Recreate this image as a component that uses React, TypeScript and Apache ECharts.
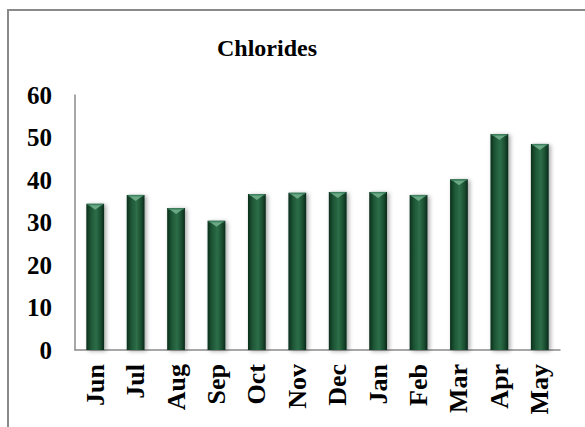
import React, { useEffect, useRef } from "react";
import * as echarts from "echarts";

const months = ["Jun", "Jul", "Aug", "Sep", "Oct", "Nov", "Dec", "Jan", "Feb", "Mar", "Apr", "May"];
const chlorides = [34.4, 36.5, 33.4, 30.4, 36.7, 37.0, 37.2, 37.2, 36.5, 40.2, 50.8, 48.5];
const yTicks = { min: 0, max: 60, interval: 10 };

const FONT = "Liberation Serif";

export default function App() {
  const ref = useRef<HTMLDivElement>(null);

  useEffect(() => {
    if (!ref.current) return;
    const chart = echarts.init(ref.current, undefined, { renderer: "svg" });

    const barFill = new echarts.graphic.LinearGradient(0, 0, 1, 0, [
      { offset: 0, color: "#0a2e1b" },
      { offset: 0.25, color: "#1e5636" },
      { offset: 0.55, color: "#2d6e48" },
      { offset: 0.8, color: "#1b4f31" },
      { offset: 1, color: "#08281a" },
    ]);

    chart.setOption({
      animation: false,
      backgroundColor: "#ffffff",
      title: {
        text: "Chlorides",
        left: 262,
        top: 31,
        textAlign: "center",
        textStyle: { fontFamily: FONT, fontWeight: "bold", fontSize: 24, color: "#000" },
      },
      graphic: [
        {
          type: "rect",
          shape: { x: 8, y: 10, width: 700, height: 500 },
          style: { fill: "none", stroke: "#8a8a8a", lineWidth: 2 },
          silent: true,
        },
      ],
      grid: { left: 75, right: 25, top: 95, bottom: 77 },
      xAxis: {
        type: "category",
        data: months,
        axisLine: { show: true, lineStyle: { color: "#8a8a8a", width: 1.5 } },
        axisTick: { show: false },
        axisLabel: {
          rotate: 90,
          margin: 14,
          interval: 0,
          fontFamily: FONT,
          fontWeight: "bold",
          fontSize: 26,
          color: "#000",
        },
      },
      yAxis: {
        type: "value",
        min: yTicks.min,
        max: yTicks.max,
        interval: yTicks.interval,
        splitLine: { show: false },
        axisLine: { show: true, lineStyle: { color: "#8a8a8a", width: 1.5 } },
        axisTick: { show: false },
        axisLabel: {
          margin: 23,
          fontFamily: FONT,
          fontWeight: "bold",
          fontSize: 25,
          color: "#000",
        },
      },
      series: [
        {
          type: "custom",
          data: chlorides.map((v, i) => [i, v]),
          encode: { x: 0, y: 1 },
          renderItem: (params: any, api: any) => {
            const idx = api.value(0);
            const val = api.value(1);
            const top = api.coord([idx, val]);
            const base = api.coord([idx, 0]);
            const bw = api.size([1, 0])[0] * 0.44;
            const x = top[0] - bw / 2;
            const y = top[1];
            const h = base[1] - top[1];
            return {
              type: "group",
              children: [
                {
                  type: "rect",
                  shape: { x, y, width: bw, height: h },
                  style: {
                    fill: barFill,
                    shadowBlur: 4,
                    shadowOffsetX: 2,
                    shadowOffsetY: 1,
                    shadowColor: "rgba(0,0,0,0.35)",
                  },
                },
                {
                  type: "polygon",
                  shape: {
                    points: [
                      [x + 2, y + 1],
                      [x + bw - 2, y + 1],
                      [x + bw / 2, y + 6],
                    ],
                  },
                  style: { fill: "#6aa983" },
                },
                {
                  type: "rect",
                  shape: { x: x + 1, y, width: bw - 2, height: 1.5 },
                  style: { fill: "#3f8060" },
                },
              ],
            };
          },
        },
      ],
    });

    return () => chart.dispose();
  }, []);

  return (
    <div
      ref={ref}
      style={{ position: "absolute", left: 0, top: 0, width: 585, height: 427 }}
    />
  );
}
